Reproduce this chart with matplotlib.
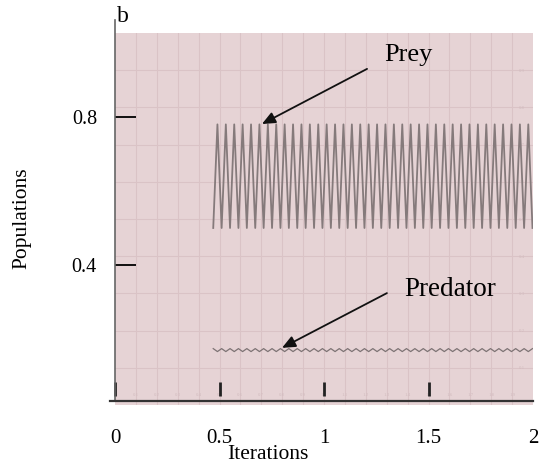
import numpy as np
import matplotlib
matplotlib.use("Agg")
import matplotlib.pyplot as plt

plt.rcParams["font.family"] = ["Liberation Serif", "DejaVu Serif"]

# population values per iteration (period-2 cycle after the transient)
prey = [0.50, 0.78] * 38 + [0.50]
predator = [0.174, 0.166] * 38 + [0.174]
iterations = 0.47 + 0.0201 * np.arange(len(prey))

x_ticks = [0, 0.5, 1, 1.5, 2]
x_ticklabels = ["0", "0.5", "1", "1.5", "2"]
y_ticks = [0.4, 0.8]
y_ticklabels = ["0.4", "0.8"]

pink = "#e6d3d5"
pos = [115 / 540, 60 / 465, 418 / 540, 372 / 465]

fig = plt.figure(figsize=(5.4, 4.65), dpi=100)

# faint background chart with its own fine grid
bg = fig.add_axes(pos)
bg.set_facecolor(pink)
bg.set_xlim(0, 2)
bg.set_ylim(0, 1)
bg.set_xticks(np.arange(0.1, 2.0, 0.1))
bg.set_yticks(np.arange(0.1, 1.0, 0.1))
bg.set_xticklabels([f"{v:.1f}" for v in np.arange(0.1, 2.0, 0.1)])
bg.set_yticklabels([f"{v:.1f}" for v in np.arange(0.1, 1.0, 0.1)])
bg.yaxis.tick_right()
bg.tick_params(axis="both", length=0, labelsize=3.5, labelcolor="#d2bcbf")
bg.tick_params(axis="y", pad=-10)
bg.tick_params(axis="x", pad=-9)
bg.grid(True, color="#dac3c6", lw=0.8)
for s in bg.spines.values():
    s.set_visible(False)

ax = fig.add_axes(pos)
ax.set_facecolor("none")
ax.set_xlim(0, 2)
ax.set_ylim(0.0216, 1.027)
for s in ax.spines.values():
    s.set_visible(False)

ax.plot(iterations, prey, color="#857a7b", lw=1.3)
ax.plot(iterations, predator, color="#7d7374", lw=0.9)

# axis lines
ax.plot([0, 0], [0.0324, 1.062], color="#666666", lw=1.2, clip_on=False)
ax.plot([-0.024, 2], [0.0324, 0.0324], color="#333333", lw=1.6, clip_on=False)

ax.set_yticks(y_ticks)
ax.set_yticklabels(y_ticklabels)
ax.tick_params(axis="y", direction="in", length=15, width=1.3, color="black",
               pad=13, labelsize=14.5)
ax.set_xticks(x_ticks)
ax.set_xticklabels(x_ticklabels)
ax.tick_params(axis="x", length=0, pad=17, labelsize=15)

# short tick marks sitting just above the bottom line
sec = ax.secondary_xaxis(9 / 372)
sec.set_xticks([0, 0.5, 1, 1.5])
sec.tick_params(axis="x", direction="in", length=10, width=2, color="#222222",
                labelbottom=False)
sec.spines["bottom"].set_visible(False)

ax.annotate("", xy=(0.703, 0.781), xytext=(1.206, 0.930),
            arrowprops=dict(arrowstyle="-|>,head_length=0.8,head_width=0.35",
                            color="#111111", lw=1.3, shrinkA=0, shrinkB=0))
ax.text(1.402, 0.968, "Prey", fontsize=19, ha="center", va="center")

ax.annotate("", xy=(0.799, 0.176), xytext=(1.301, 0.324),
            arrowprops=dict(arrowstyle="-|>,head_length=0.8,head_width=0.35",
                            color="#111111", lw=1.3, shrinkA=0, shrinkB=0))
ax.text(1.603, 0.335, "Predator", fontsize=19.5, ha="center", va="center")

fig.text(22 / 540, 1 - 218 / 465, "Populations", rotation=90, fontsize=15.5,
         ha="center", va="center")
fig.text(268 / 540, 1 - 445 / 465, "Iterations", fontsize=15.5, ha="center", va="top")
fig.text(117 / 540, 1 - 6 / 465, "b", fontsize=17, ha="left", va="top")

fig.savefig("out.png", dpi=100)
